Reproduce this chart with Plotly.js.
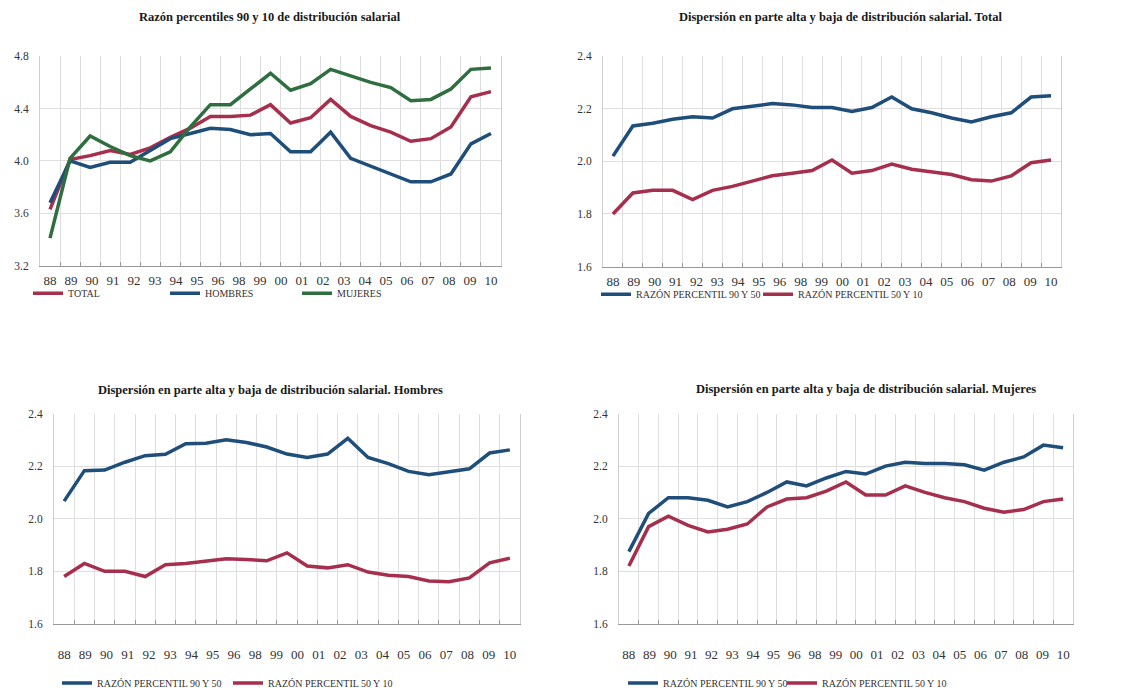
<!DOCTYPE html>
<html>
<head>
<meta charset="utf-8">
<script src="https://cdn.plot.ly/plotly-3.0.1.min.js"></script>
<style>
  html, body { margin: 0; padding: 0; background: #ffffff; }
  #chart { width: 1125px; height: 698px; }
</style>
</head>
<body>
<div id="chart"></div>
<script>
// ---- DATA ----
const categories = ['88','89','90','91','92','93','94','95','96','97','98','99','00','01','02','03','04','05','06','07','08','09','10'];
const tickLabels = ['88','89','90','91','92','93','94','95','96','98','99','00','01','02','03','04','05','06','07','08','09','10'];

// Razón percentiles 90 y 10
const p9010Total   = [3.63,4.01,4.04,4.08,4.05,4.10,4.18,4.25,4.34,4.34,4.35,4.43,4.29,4.33,4.47,4.34,4.27,4.22,4.15,4.17,4.26,4.49,4.53];
const p9010Hombres = [3.68,4.00,3.95,3.99,3.99,4.08,4.17,4.21,4.25,4.24,4.20,4.21,4.07,4.07,4.22,4.02,3.96,3.90,3.84,3.84,3.90,4.13,4.21];
const p9010Mujeres = [3.41,4.02,4.19,4.11,4.04,4.00,4.07,4.26,4.43,4.43,4.55,4.67,4.54,4.59,4.70,4.65,4.60,4.56,4.46,4.47,4.55,4.70,4.71];

// Total
const totalP9050 = [2.02,2.135,2.145,2.16,2.17,2.165,2.20,2.21,2.22,2.215,2.205,2.205,2.19,2.205,2.245,2.20,2.185,2.165,2.15,2.17,2.185,2.245,2.25];
const totalP5010 = [1.80,1.88,1.89,1.89,1.855,1.89,1.905,1.925,1.945,1.955,1.965,2.005,1.955,1.965,1.99,1.97,1.96,1.95,1.93,1.925,1.945,1.995,2.005];

// Hombres
const hombresP9050 = [2.067,2.183,2.185,2.215,2.24,2.245,2.285,2.287,2.30,2.29,2.273,2.246,2.233,2.246,2.306,2.233,2.21,2.18,2.167,2.18,2.19,2.25,2.262];
const hombresP5010 = [1.78,1.83,1.80,1.80,1.78,1.825,1.83,1.838,1.848,1.845,1.84,1.87,1.82,1.813,1.825,1.797,1.785,1.78,1.763,1.76,1.775,1.832,1.85];

// Mujeres
const mujeresP9050 = [1.875,2.02,2.08,2.08,2.07,2.045,2.065,2.10,2.14,2.125,2.155,2.18,2.17,2.20,2.215,2.21,2.21,2.205,2.185,2.215,2.235,2.28,2.27];
const mujeresP5010 = [1.82,1.97,2.01,1.975,1.95,1.96,1.98,2.045,2.075,2.08,2.105,2.14,2.09,2.09,2.125,2.10,2.08,2.065,2.04,2.025,2.035,2.065,2.075];

const titles = [
  'Razón percentiles 90 y 10 de distribución salarial',
  'Dispersión en parte alta y baja de distribución salarial. Total',
  'Dispersión en parte alta y baja de distribución salarial. Hombres',
  'Dispersión en parte alta y baja de distribución salarial. Mujeres'
];
const nameTotal = 'TOTAL', nameHombres = 'HOMBRES', nameMujeres = 'MUJERES';
const name9050 = 'RAZÓN PERCENTIL 90 Y 50', name5010 = 'RAZÓN PERCENTIL 50 Y 10';

// ---- STYLE ----
const RED = '#A62F4E', BLUE = '#1F4E7A', GREEN = '#2F6E3F';
const FONT = 'Liberation Serif';
const W = 1125, H = 698;
const dx = (a, b) => [a / W, b / W];
const dy = (top, bottom) => [1 - bottom / H, 1 - top / H];
const px = v => v / W;
const py = v => 1 - v / H;

const n = categories.length;
const labelPos = tickLabels.map((_, i) => i * (n - 1) / (tickLabels.length - 1));

function line(name, y, color, xa, ya, legend) {
  return { type: 'scatter', mode: 'lines', name: name, x: categories, y: y,
    xaxis: xa, yaxis: ya, legend: legend,
    line: { color: color, width: 3.5 }, hovertemplate: '%{x}: %{y}<extra>' + name + '</extra>' };
}
function dummy(xa, ya) {
  return { type: 'scatter', mode: 'lines', x: [], y: [], xaxis: xa, yaxis: ya, showlegend: false, hoverinfo: 'skip' };
}

const data = [
  line(nameTotal,   p9010Total,   RED,   'x', 'y', 'legend'),
  line(nameHombres, p9010Hombres, BLUE,  'x', 'y', 'legend2'),
  line(nameMujeres, p9010Mujeres, GREEN, 'x', 'y', 'legend3'),
  line(name9050, totalP9050, BLUE, 'x2', 'y2', 'legend4'),
  line(name5010, totalP5010, RED,  'x2', 'y2', 'legend5'),
  line(name9050, hombresP9050, BLUE, 'x3', 'y3', 'legend6'),
  line(name5010, hombresP5010, RED,  'x3', 'y3', 'legend7'),
  line(name9050, mujeresP9050, BLUE, 'x4', 'y4', 'legend8'),
  line(name5010, mujeresP5010, RED,  'x4', 'y4', 'legend9'),
  dummy('x5', 'y'), dummy('x6', 'y2'), dummy('x7', 'y3'), dummy('x8', 'y4')
];

function catAxis(domain, anchor) {
  return { domain: domain, anchor: anchor, type: 'category', categoryorder: 'array', categoryarray: categories,
    range: [-0.5, n - 0.5], tickson: 'boundaries', ticks: 'inside', ticklen: 4, tickcolor: '#999',
    showticklabels: false, showgrid: true, gridcolor: '#dedede', gridwidth: 1,
    showline: true, linecolor: '#999', linewidth: 1, zeroline: false, fixedrange: true };
}
function labelAxis(over, anchor, standoff) {
  return { overlaying: over, anchor: anchor, side: 'bottom', type: 'linear', range: [-0.5, n - 0.5],
    tickmode: 'array', tickvals: labelPos, ticktext: tickLabels, ticks: '', ticklabelstandoff: standoff,
    showgrid: false, zeroline: false, showline: false, fixedrange: true,
    tickfont: { family: FONT, size: 13, color: '#333' } };
}
function valAxis(domain, anchor, range, dtick) {
  return { domain: domain, anchor: anchor, range: range, dtick: dtick, tick0: range[0], tickformat: '.1f',
    ticks: '', ticklabelstandoff: 8, showgrid: true, gridcolor: '#dedede', gridwidth: 1,
    showline: true, mirror: true, linecolor: '#cfcfcf', zeroline: false, fixedrange: true,
    tickfont: { family: FONT, size: 11.5, color: '#333' } };
}
function legendAt(xpx, ypx) {
  return { x: px(xpx), y: py(ypx), xanchor: 'left', yanchor: 'middle', orientation: 'h',
    bgcolor: 'rgba(0,0,0,0)', borderwidth: 0, itemwidth: 30,
    font: { family: FONT, size: 10, color: '#333' } };
}
function titleAnn(text, xpx, ypx) {
  return { text: '<b>' + text + '</b>', x: px(xpx), y: py(ypx), xref: 'paper', yref: 'paper',
    xanchor: 'center', yanchor: 'middle', showarrow: false,
    font: { family: FONT, size: 12.5, color: '#1a1a1a' } };
}

const layout = {
  width: W, height: H, margin: { l: 0, r: 0, t: 0, b: 0 },
  font: { family: FONT },
  paper_bgcolor: '#ffffff', plot_bgcolor: '#ffffff',
  xaxis:  catAxis(dx(40, 501), 'y'),
  yaxis:  valAxis(dy(57, 269), 'x', [3.2, 4.8], 0.4),
  xaxis2: catAxis(dx(603, 1061), 'y2'),
  yaxis2: valAxis(dy(57, 270), 'x2', [1.6, 2.4], 0.2),
  xaxis3: catAxis(dx(54, 520), 'y3'),
  yaxis3: valAxis(dy(419, 632), 'x3', [1.6, 2.4], 0.2),
  xaxis4: catAxis(dx(619, 1073), 'y4'),
  yaxis4: valAxis(dy(419, 632), 'x4', [1.6, 2.4], 0.2),
  xaxis5: labelAxis('x', 'y', 5),
  xaxis6: labelAxis('x2', 'y2', 5),
  xaxis7: labelAxis('x3', 'y3', 21),
  xaxis8: labelAxis('x4', 'y4', 21),
  legend:  legendAt(28, 297),
  legend2: legendAt(165, 297),
  legend3: legendAt(297, 297),
  legend4: legendAt(596, 298),
  legend5: legendAt(758, 298),
  legend6: legendAt(57, 692),
  legend7: legendAt(228, 692),
  legend8: legendAt(623, 692),
  legend9: legendAt(782, 692),
  annotations: [
    titleAnn(titles[0], 270, 17),
    titleAnn(titles[1], 840, 17),
    titleAnn(titles[2], 270, 395),
    titleAnn(titles[3], 866, 394)
  ],
  showlegend: true
};

Plotly.newPlot('chart', data, layout, { displayModeBar: false, staticPlot: true });
</script>
</body>
</html>
